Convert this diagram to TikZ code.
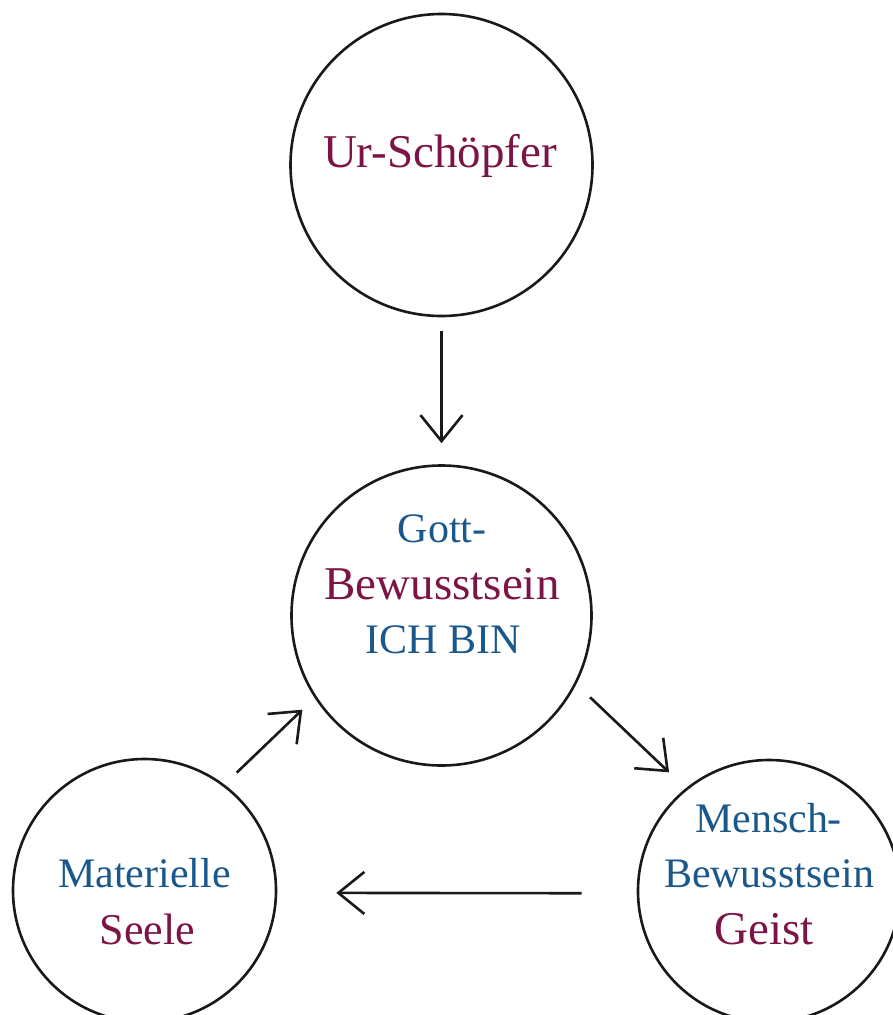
\documentclass[tikz,border=0pt]{standalone}
\usepackage{fontspec}
\setmainfont{Liberation Serif}
\usetikzlibrary{arrows.meta}
\definecolor{tblue}{RGB}{26,88,140}
\definecolor{tmaroon}{RGB}{125,20,70}
\begin{document}
\begin{tikzpicture}[x=1pt,y=-1pt,
  ring/.style={circle,draw=black!90,line width=2.6pt,inner sep=0pt},
  bluetxt/.style={anchor=base,inner sep=0pt,text=tblue,font=\fontsize{42}{50}\selectfont},
  redtxt/.style={anchor=base,inner sep=0pt,text=tmaroon,font=\fontsize{47}{54}\selectfont},
  conn/.style={line width=2.6pt,draw=black!90,-{Straight Barb[length=26pt,width=42pt,line width=2.6pt]}}
]
\useasboundingbox (0,0) rectangle (892,1015);
\fill[white] (0,0) rectangle (892,1015);
% circles
\node[ring,minimum size=302pt] (top) at (441.5,165) {};
\node[ring,minimum size=300pt] (mid) at (441.5,615.5) {};
\node[ring,minimum size=263pt] (bl) at (144.5,890.5) {};
\node[ring,minimum size=262pt] (br) at (769,891) {};
% texts
\node[redtxt] (t1) at (440,167) {Ur-Schöpfer};
\node[bluetxt] (m1) at (442,542) {Gott-};
\node[redtxt] (m2) at (442,599) {Bewusstsein};
\node[bluetxt] (m3) at (443,653) {ICH BIN};
\node[bluetxt] (l1) at (144.5,887) {Materielle};
\node[redtxt,font=\fontsize{44}{52}\selectfont] (l2) at (147.5,944) {Seele};
\node[bluetxt] (r1) at (768.5,832) {Mensch-};
\node[bluetxt] (r2) at (769,887) {Bewusstsein};
\node[redtxt] (r3) at (764,944) {Geist};
% connectors
\draw[conn,shorten <=14pt,shorten >=21pt] (top.south) -- (mid.north);
\draw[conn,shorten <=17pt,shorten >=17pt] (bl.53) -- (mid.213);
\draw[conn,shorten <=19pt,shorten >=23pt] (mid.333) -- (br.129);
\draw[conn,shorten <=55pt,shorten >=59pt] (br.181) -- (bl.-1);
\end{tikzpicture}
\end{document}
